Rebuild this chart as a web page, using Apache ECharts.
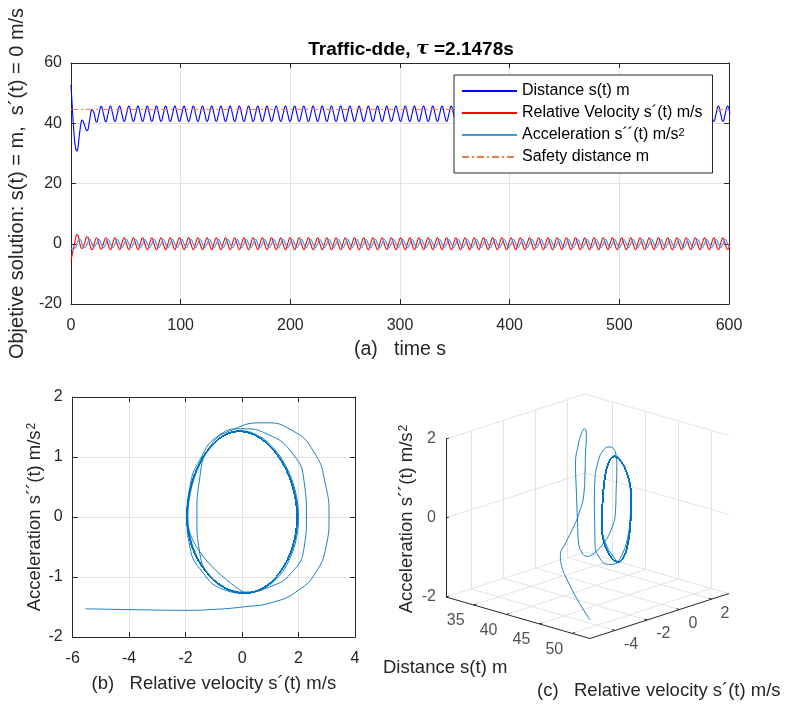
<!DOCTYPE html>
<html><head><meta charset="utf-8">
<script src="https://cdn.jsdelivr.net/npm/echarts@6/dist/echarts.min.js"></script>
<style>html,body{margin:0;padding:0;background:#fff}#c{width:787px;height:704px}</style>
</head><body><div id="c"></div>
<script>
// ---------------- data ----------------
// sample times (s): dense samples in the transient, then one sample every quarter period
const timeS = [
0,1.0,2.0,2.6,3.2,3.8,4.3,4.7,5.0,
5.3,5.9,6.5,7.0,7.6,8.3,8.9,9.5,
10.0,10.6,11.2,11.8,12.4,13.0,13.6,14.2,
14.8,15.4,15.9,16.4,17.0,17.6,18.1,18.6,
19.2,19.7,20.2,20.7,
21.2,23.3,25.4,27.5,29.6,31.7,33.8,35.9,38.0,40.1,
42.2,44.3,46.4,48.5,50.6,52.7,54.8,56.9,59.0,61.1,
63.2,65.3,67.4,69.5,71.6,73.7,75.8,77.9,80.0,82.1,
84.2,86.3,88.4,90.5,92.6,94.7,96.8,98.9,101.0,103.1,
105.2,107.3,109.4,111.5,113.6,115.7,117.8,119.9,122.0,124.1,
126.2,128.3,130.4,132.5,134.6,136.7,138.8,140.9,143.0,145.1,
147.2,149.3,151.4,153.5,155.6,157.7,159.8,161.9,164.0,166.1,
168.2,170.3,172.4,174.5,176.6,178.7,180.8,182.9,185.0,187.1,
189.2,191.3,193.4,195.5,197.6,199.7,201.8,203.9,206.0,208.1,
210.2,212.3,214.4,216.5,218.6,220.7,222.8,224.9,227.0,229.1,
231.2,233.3,235.4,237.5,239.6,241.7,243.8,245.9,248.0,250.1,
252.2,254.3,256.4,258.5,260.6,262.7,264.8,266.9,269.0,271.1,
273.2,275.3,277.4,279.5,281.6,283.7,285.8,287.9,290.0,292.1,
294.2,296.3,298.4,300.5,302.6,304.7,306.8,308.9,311.0,313.1,
315.2,317.3,319.4,321.5,323.6,325.7,327.8,329.9,332.0,334.1,
336.2,338.3,340.4,342.5,344.6,346.7,348.8,350.9,353.0,355.1,
357.2,359.3,361.4,363.5,365.6,367.7,369.8,371.9,374.0,376.1,
378.2,380.3,382.4,384.5,386.6,388.7,390.8,392.9,395.0,397.1,
399.2,401.3,403.4,405.5,407.6,409.7,411.8,413.9,416.0,418.1,
420.2,422.3,424.4,426.5,428.6,430.7,432.8,434.9,437.0,439.1,
441.2,443.3,445.4,447.5,449.6,451.7,453.8,455.9,458.0,460.1,
462.2,464.3,466.4,468.5,470.6,472.7,474.8,476.9,479.0,481.1,
483.2,485.3,487.4,489.5,491.6,493.7,495.8,497.9,500.0,502.1,
504.2,506.3,508.4,510.5,512.6,514.7,516.8,518.9,521.0,523.1,
525.2,527.3,529.4,531.5,533.6,535.7,537.8,539.9,542.0,544.1,
546.2,548.3,550.4,552.5,554.6,556.7,558.8,560.9,563.0,565.1,
567.2,569.3,571.4,573.5,575.6,577.7,579.8,581.9,584.0,586.1,
588.2,590.3,592.4,594.5,596.6,598.7,600.8
];
// Distance s(t) in m
const distanceM = [
52.7,46.5,40.5,37.3,34.6,32.7,31.6,31.1,30.9,
30.8,31.2,32.3,34.0,36.0,38.0,39.6,40.7,
41.1,41.0,40.6,39.9,39.3,38.6,38.0,37.6,
37.5,37.8,38.6,39.8,41.1,42.4,43.5,44.3,
44.6,44.4,44.0,43.6,
43.1,40.4,43.0,45.6, 43.1,40.5,43.1,45.7,
43.1,40.6,43.1,45.7,43.1,40.6,43.1,45.7,43.1,40.6,43.1,45.7,43.1,40.6,43.1,45.7,43.1,40.6,43.1,45.7,
43.1,40.6,43.1,45.7,43.1,40.6,43.1,45.7,43.1,40.6,43.1,45.7,43.1,40.6,43.1,45.7,43.1,40.6,43.1,45.7,
43.1,40.6,43.1,45.7,43.1,40.6,43.1,45.7,43.1,40.6,43.1,45.7,43.1,40.6,43.1,45.7,43.1,40.6,43.1,45.7,
43.1,40.6,43.1,45.7,43.1,40.6,43.1,45.7,43.1,40.6,43.1,45.7,43.1,40.6,43.1,45.7,43.1,40.6,43.1,45.7,
43.1,40.6,43.1,45.7,43.1,40.6,43.1,45.7,43.1,40.6,43.1,45.7,43.1,40.6,43.1,45.7,43.1,40.6,43.1,45.7,
43.1,40.6,43.1,45.7,43.1,40.6,43.1,45.7,43.1,40.6,43.1,45.7,43.1,40.6,43.1,45.7,43.1,40.6,43.1,45.7,
43.1,40.6,43.1,45.7,43.1,40.6,43.1,45.7,43.1,40.6,43.1,45.7,43.1,40.6,43.1,45.7,43.1,40.6,43.1,45.7,
43.1,40.6,43.1,45.7,43.1,40.6,43.1,45.7,43.1,40.6,43.1,45.7,43.1,40.6,43.1,45.7,43.1,40.6,43.1,45.7,
43.1,40.6,43.1,45.7,43.1,40.6,43.1,45.7,43.1,40.6,43.1,45.7,43.1,40.6,43.1,45.7,43.1,40.6,43.1,45.7,
43.1,40.6,43.1,45.7,43.1,40.6,43.1,45.7,43.1,40.6,43.1,45.7,43.1,40.6,43.1,45.7,43.1,40.6,43.1,45.7,
43.1,40.6,43.1,45.7,43.1,40.6,43.1,45.7,43.1,40.6,43.1,45.7,43.1,40.6,43.1,45.7,43.1,40.6,43.1,45.7,
43.1,40.6,43.1,45.7,43.1,40.6,43.1,45.7,43.1,40.6,43.1,45.7,43.1,40.6,43.1,45.7,43.1,40.6,43.1,45.7,
43.1,40.6,43.1,45.7,43.1,40.6,43.1,45.7,43.1,40.6,43.1,45.7,43.1,40.6,43.1,45.7,43.1,40.6,43.1,45.7,
43.1,40.6,43.1,45.7,43.1,40.6,43.1,45.7,
43.1
];
// Relative velocity s'(t) in m/s
const velocityMS = [
-5.55,-3.8,-2.0,-1.0,0.0,1.1,2.0,2.6,2.97,
3.08,2.95,2.55,1.75,0.75,-0.3,-1.1,-1.5,
-1.6,-1.5,-1.1,-0.5,0.1,0.95,1.75,2.2,
2.28,2.2,1.8,0.9,0.0,-0.85,-1.5,-1.85,
-1.95,-1.85,-1.4,-0.7,
0.1,2.0,-0.05,-1.92, 0.1,1.97,-0.1,-1.95,
0.1,1.95,-0.1,-1.95,0.1,1.95,-0.1,-1.95,0.1,1.95,-0.1,-1.95,0.1,1.95,-0.1,-1.95,0.1,1.95,-0.1,-1.95,
0.1,1.95,-0.1,-1.95,0.1,1.95,-0.1,-1.95,0.1,1.95,-0.1,-1.95,0.1,1.95,-0.1,-1.95,0.1,1.95,-0.1,-1.95,
0.1,1.95,-0.1,-1.95,0.1,1.95,-0.1,-1.95,0.1,1.95,-0.1,-1.95,0.1,1.95,-0.1,-1.95,0.1,1.95,-0.1,-1.95,
0.1,1.95,-0.1,-1.95,0.1,1.95,-0.1,-1.95,0.1,1.95,-0.1,-1.95,0.1,1.95,-0.1,-1.95,0.1,1.95,-0.1,-1.95,
0.1,1.95,-0.1,-1.95,0.1,1.95,-0.1,-1.95,0.1,1.95,-0.1,-1.95,0.1,1.95,-0.1,-1.95,0.1,1.95,-0.1,-1.95,
0.1,1.95,-0.1,-1.95,0.1,1.95,-0.1,-1.95,0.1,1.95,-0.1,-1.95,0.1,1.95,-0.1,-1.95,0.1,1.95,-0.1,-1.95,
0.1,1.95,-0.1,-1.95,0.1,1.95,-0.1,-1.95,0.1,1.95,-0.1,-1.95,0.1,1.95,-0.1,-1.95,0.1,1.95,-0.1,-1.95,
0.1,1.95,-0.1,-1.95,0.1,1.95,-0.1,-1.95,0.1,1.95,-0.1,-1.95,0.1,1.95,-0.1,-1.95,0.1,1.95,-0.1,-1.95,
0.1,1.95,-0.1,-1.95,0.1,1.95,-0.1,-1.95,0.1,1.95,-0.1,-1.95,0.1,1.95,-0.1,-1.95,0.1,1.95,-0.1,-1.95,
0.1,1.95,-0.1,-1.95,0.1,1.95,-0.1,-1.95,0.1,1.95,-0.1,-1.95,0.1,1.95,-0.1,-1.95,0.1,1.95,-0.1,-1.95,
0.1,1.95,-0.1,-1.95,0.1,1.95,-0.1,-1.95,0.1,1.95,-0.1,-1.95,0.1,1.95,-0.1,-1.95,0.1,1.95,-0.1,-1.95,
0.1,1.95,-0.1,-1.95,0.1,1.95,-0.1,-1.95,0.1,1.95,-0.1,-1.95,0.1,1.95,-0.1,-1.95,0.1,1.95,-0.1,-1.95,
0.1,1.95,-0.1,-1.95,0.1,1.95,-0.1,-1.95,0.1,1.95,-0.1,-1.95,0.1,1.95,-0.1,-1.95,0.1,1.95,-0.1,-1.95,
0.1,1.95,-0.1,-1.95,0.1,1.95,-0.1,-1.95,
0.1
];
// Acceleration s''(t) in m/s^2
const accelerationMS2 = [
-1.53,-1.545,-1.555,-1.54,-1.5,-1.42,-1.22,-0.93,-0.5,
0.0,0.55,1.08,1.45,1.57,1.46,1.2,0.65,
0.0,-0.6,-1.0,-1.2,-1.25,-1.17,-0.93,-0.5,
0.0,0.58,1.05,1.38,1.47,1.35,0.95,0.5,
0.0,-0.5,-0.92,-1.2,
-1.27,0,1.44,0, -1.27,0,1.43,0,
-1.27,0,1.43,0,-1.27,0,1.43,0,-1.27,0,1.43,0,-1.27,0,1.43,0,-1.27,0,1.43,0,
-1.27,0,1.43,0,-1.27,0,1.43,0,-1.27,0,1.43,0,-1.27,0,1.43,0,-1.27,0,1.43,0,
-1.27,0,1.43,0,-1.27,0,1.43,0,-1.27,0,1.43,0,-1.27,0,1.43,0,-1.27,0,1.43,0,
-1.27,0,1.43,0,-1.27,0,1.43,0,-1.27,0,1.43,0,-1.27,0,1.43,0,-1.27,0,1.43,0,
-1.27,0,1.43,0,-1.27,0,1.43,0,-1.27,0,1.43,0,-1.27,0,1.43,0,-1.27,0,1.43,0,
-1.27,0,1.43,0,-1.27,0,1.43,0,-1.27,0,1.43,0,-1.27,0,1.43,0,-1.27,0,1.43,0,
-1.27,0,1.43,0,-1.27,0,1.43,0,-1.27,0,1.43,0,-1.27,0,1.43,0,-1.27,0,1.43,0,
-1.27,0,1.43,0,-1.27,0,1.43,0,-1.27,0,1.43,0,-1.27,0,1.43,0,-1.27,0,1.43,0,
-1.27,0,1.43,0,-1.27,0,1.43,0,-1.27,0,1.43,0,-1.27,0,1.43,0,-1.27,0,1.43,0,
-1.27,0,1.43,0,-1.27,0,1.43,0,-1.27,0,1.43,0,-1.27,0,1.43,0,-1.27,0,1.43,0,
-1.27,0,1.43,0,-1.27,0,1.43,0,-1.27,0,1.43,0,-1.27,0,1.43,0,-1.27,0,1.43,0,
-1.27,0,1.43,0,-1.27,0,1.43,0,-1.27,0,1.43,0,-1.27,0,1.43,0,-1.27,0,1.43,0,
-1.27,0,1.43,0,-1.27,0,1.43,0,-1.27,0,1.43,0,-1.27,0,1.43,0,-1.27,0,1.43,0,
-1.27,0,1.43,0,-1.27,0,1.43,0,-1.27,0,1.43,0,-1.27,0,1.43,0,-1.27,0,1.43,0,
-1.27,0,1.43,0,-1.27,0,1.43,0,
-1.27
];
const safetyDistanceM = 44.6;
const distTicks3d = [35, 40, 45, 50];
const velTicks3d = [-4, -2, 0, 2];
const accTicks3d = [-2, 0, 2];

// ---------------- styling / layout ----------------
const FONT = '"Liberation Sans", Arial, Helvetica, sans-serif';
const AX = '#262626';
const GRIDC = '#e3e3e3';
const C_DIST = '#0000ff', C_VEL = '#ff0000', C_ACC = '#3e9ade', C_SAFE = '#ec7a48', C_PH = '#0072BD';
const SMOOTH = 0.52;
const N_DIST = 'Distance s(t) m', N_VEL = 'Relative Velocity s´(t) m/s',
      N_ACC = 'Acceleration s´´(t) m/s2', N_SAFE = 'Safety distance m';
const richFor = fs => ({
  n: {fontSize: fs, fontFamily: FONT, color: AX},
  sup: {fontSize: Math.round(fs * 0.65), fontFamily: FONT, color: AX, verticalAlign: 'top', padding: [0, 0, 0, 1]}
});
const NAME_Y = 20, NAME_BIG = 19.5, NAME_SMALL = 18.5;

const pairs = (xs, ys) => xs.map((x, i) => [x, ys[i]]);

// 3D projection (MATLAB default view) onto a pixel-sized hidden cartesian
const dMin = Math.min(...distanceM), dMax = Math.max(...distanceM);
const vMin = Math.min(...velocityMS), vMax = Math.max(...velocityMS);
const aMin = accTicks3d[0], aMax = accTicks3d[accTicks3d.length - 1];
const P0 = [446, 597], EX = [144, 41.5], EY = [139, -45], EZ = [0, -158];
function proj(d, v, a) {
  const fx = (d - dMin) / (dMax - dMin), fy = (v - vMin) / (vMax - vMin), fz = (a - aMin) / (aMax - aMin);
  return [P0[0] + fx * EX[0] + fy * EY[0] + fz * EZ[0], P0[1] + fx * EX[1] + fy * EY[1] + fz * EZ[1]];
}
const seg = (p, q) => ({coords: [proj(...p), proj(...q)]});
const gridSegs = [];
distTicks3d.forEach(d => { gridSegs.push(seg([d, vMin, aMin], [d, vMax, aMin])); gridSegs.push(seg([d, vMax, aMin], [d, vMax, aMax])); });
velTicks3d.forEach(v => { gridSegs.push(seg([dMin, v, aMin], [dMax, v, aMin])); gridSegs.push(seg([dMin, v, aMin], [dMin, v, aMax])); });
accTicks3d.forEach(a => { gridSegs.push(seg([dMin, vMin, a], [dMin, vMax, a])); gridSegs.push(seg([dMin, vMax, a], [dMax, vMax, a])); });
const axisSegs = [
  seg([dMin, vMin, aMin], [dMax, vMin, aMin]),
  seg([dMax, vMin, aMin], [dMax, vMax, aMin]),
  seg([dMin, vMin, aMin], [dMin, vMin, aMax])
];
const tv = (vMax - vMin) * 0.02, td = (dMax - dMin) * 0.02;
const tickSegs = [];
distTicks3d.forEach(d => tickSegs.push(seg([d, vMin, aMin], [d, vMin + tv, aMin])));
velTicks3d.forEach(v => tickSegs.push(seg([dMax, v, aMin], [dMax - td, v, aMin])));
accTicks3d.forEach(a => tickSegs.push(seg([dMin, vMin, a], [dMin, vMin + tv, a])));
const tickLabels3d = [];
distTicks3d.forEach(d => { const p = proj(d, vMin, aMin); tickLabels3d.push({value: [p[0] - 9, p[1] + 16, String(d)], label: {align: 'right'}}); });
velTicks3d.forEach(v => { const p = proj(dMax, v, aMin); tickLabels3d.push({value: [p[0] + 9, p[1] + 14, String(v)], label: {align: 'left'}}); });
accTicks3d.forEach(a => { const p = proj(dMin, vMin, a); tickLabels3d.push({value: [p[0] - 10, p[1], String(a)], label: {align: 'right'}}); });
const traj3d = distanceM.map((d, i) => proj(d, velocityMS[i], accelerationMS2[i]));

// ---------------- axes helpers ----------------
function mainAxis(extra, fs) {
  return Object.assign({
    type: 'value',
    axisLine: {show: true, onZero: false, lineStyle: {color: AX, width: 1}},
    axisTick: {show: true, inside: true, length: 5, lineStyle: {color: AX}},
    splitLine: {show: true, lineStyle: {color: GRIDC, width: 1}},
    nameLocation: 'middle',
    nameTextStyle: {fontSize: fs, fontFamily: FONT, color: AX, rich: richFor(fs)}
  }, extra);
}
function frameAxis(extra) {
  return Object.assign({
    type: 'value',
    axisLine: {show: true, onZero: false, lineStyle: {color: AX, width: 1}},
    axisTick: {show: true, inside: true, length: 5, lineStyle: {color: AX}},
    axisLabel: {show: false}, splitLine: {show: false}
  }, extra);
}
const lbl = m => ({color: AX, fontSize: 16, fontFamily: FONT, margin: m});
const lineS = (extra) => Object.assign({type: 'line', symbol: 'none', showSymbol: false, smooth: SMOOTH}, extra);

const chart = echarts.init(document.getElementById('c'), null, {renderer: 'canvas'});
chart.setOption({
  animation: false,
  backgroundColor: '#fff',
  title: {
    text: '{b|Traffic-dde, }{i|τ}{b| =2.1478s}',
    left: 406, top: 35, textAlign: 'center',
    textStyle: {rich: {
      b: {fontSize: 19, fontWeight: 'bold', fontFamily: FONT, color: '#000'},
      i: {fontSize: 19, fontStyle: 'italic', fontFamily: '"DejaVu Serif", serif', color: '#000'}
    }}
  },
  grid: [
    {left: 71, top: 63, width: 658, height: 241, outerBoundsMode: 'none'},
    {left: 72.7, top: 397, width: 282.3, height: 240, outerBoundsMode: 'none'},
    {left: 0, top: 0, width: 787, height: 704, outerBoundsMode: 'none'}
  ],
  xAxis: [
    mainAxis({gridIndex: 0, min: 0, max: 600, interval: 100, position: 'bottom', name: '(a)   time s', nameGap: 36, axisLabel: lbl(14)}, NAME_BIG),
    frameAxis({gridIndex: 0, min: 0, max: 600, interval: 100, position: 'top'}),
    mainAxis({gridIndex: 1, min: -6, max: 4, interval: 2, position: 'bottom', name: '(b)   Relative velocity s´(t) m/s', nameGap: 37, axisLabel: lbl(14)}, NAME_SMALL),
    frameAxis({gridIndex: 1, min: -6, max: 4, interval: 2, position: 'top'}),
    {gridIndex: 2, type: 'value', min: 0, max: 787, show: false}
  ],
  yAxis: [
    mainAxis({gridIndex: 0, min: -20, max: 60, interval: 20, position: 'left', name: 'Objetive solution: s(t) = m,  s´(t) = 0 m/s', nameGap: 40, axisLabel: lbl(9)}, NAME_Y),
    frameAxis({gridIndex: 0, min: -20, max: 60, interval: 20, position: 'right'}),
    mainAxis({gridIndex: 1, min: -2, max: 2, interval: 1, position: 'left', name: '{n|Acceleration s´´(t) m/s}{sup|2}', nameGap: 26, axisLabel: lbl(10)}, NAME_SMALL),
    frameAxis({gridIndex: 1, min: -2, max: 2, interval: 1, position: 'right'}),
    {gridIndex: 2, type: 'value', min: 0, max: 704, inverse: true, show: false}
  ],
  legend: {
    orient: 'vertical', left: 454, top: 75,
    padding: [8, 10, 8, 7], itemWidth: 55, itemHeight: 14, itemGap: 6,
    backgroundColor: '#fff', borderColor: AX, borderWidth: 1, borderRadius: 0,
    selectedMode: false,
    itemStyle: {opacity: 0},
    data: [N_DIST, N_VEL, N_ACC, N_SAFE],
    formatter: n => n === N_ACC ? '{t|Acceleration s´´(t) m/s}{s|2}' : '{t|' + n + '}',
    textStyle: {fontSize: 16, fontFamily: FONT, color: '#000', rich: {
      t: {fontSize: 16, fontFamily: FONT, color: '#000'},
      s: {fontSize: 11, fontFamily: FONT, color: '#000', verticalAlign: 'top'}
    }}
  },
  graphic: [
    {type: 'text', x: 407, y: 519, rotation: Math.PI / 2, silent: true,
     style: {text: '{n|Acceleration s´´(t) m/s}{sup|2}', rich: richFor(NAME_SMALL), align: 'center', verticalAlign: 'middle', fontSize: NAME_SMALL, fontFamily: FONT, fill: AX}},
    {type: 'text', x: 383, y: 668, silent: true,
     style: {text: 'Distance s(t) m', align: 'left', verticalAlign: 'middle', fontSize: NAME_SMALL, fontFamily: FONT, fill: AX}},
    {type: 'text', x: 537, y: 691, silent: true,
     style: {text: '(c)   Relative velocity s´(t) m/s', align: 'left', verticalAlign: 'middle', fontSize: NAME_SMALL, fontFamily: FONT, fill: AX}}
  ],
  series: [
    lineS({name: N_DIST, xAxisIndex: 0, yAxisIndex: 0, data: pairs(timeS, distanceM),
     lineStyle: {color: C_DIST, width: 1.1}, itemStyle: {color: C_DIST}}),
    lineS({name: N_VEL, xAxisIndex: 0, yAxisIndex: 0, data: pairs(timeS, velocityMS),
     lineStyle: {color: C_VEL, width: 1.1}, itemStyle: {color: C_VEL}}),
    lineS({name: N_ACC, xAxisIndex: 0, yAxisIndex: 0, data: pairs(timeS, accelerationMS2),
     lineStyle: {color: C_ACC, width: 1.1}, itemStyle: {color: C_ACC}}),
    lineS({name: N_SAFE, xAxisIndex: 0, yAxisIndex: 0, data: [[0, safetyDistanceM], [600, safetyDistanceM]], smooth: false,
     lineStyle: {color: C_SAFE, width: 1, type: [7, 3, 2, 3]}, itemStyle: {color: C_SAFE}}),

    // (b) phase plane
    lineS({xAxisIndex: 2, yAxisIndex: 2, data: pairs(velocityMS, accelerationMS2),
     lineStyle: {color: C_PH, width: 0.9}}),

    // (c) 3-D view
    {type: 'lines', coordinateSystem: 'cartesian2d', xAxisIndex: 4, yAxisIndex: 4, silent: true, z: 1,
     data: gridSegs, lineStyle: {color: GRIDC, width: 1, opacity: 1}},
    {type: 'lines', coordinateSystem: 'cartesian2d', xAxisIndex: 4, yAxisIndex: 4, silent: true, z: 3,
     data: axisSegs.concat(tickSegs), lineStyle: {color: AX, width: 1, opacity: 1}},
    lineS({xAxisIndex: 4, yAxisIndex: 4, data: traj3d, clip: false, z: 4,
     lineStyle: {color: C_PH, width: 0.9}}),
    {type: 'scatter', xAxisIndex: 4, yAxisIndex: 4, data: tickLabels3d, symbolSize: 0, silent: true,
     label: {show: true, position: 'inside', formatter: p => p.value[2], color: AX, fontSize: 16, fontFamily: FONT}}
  ]
});
</script>
</body></html>
